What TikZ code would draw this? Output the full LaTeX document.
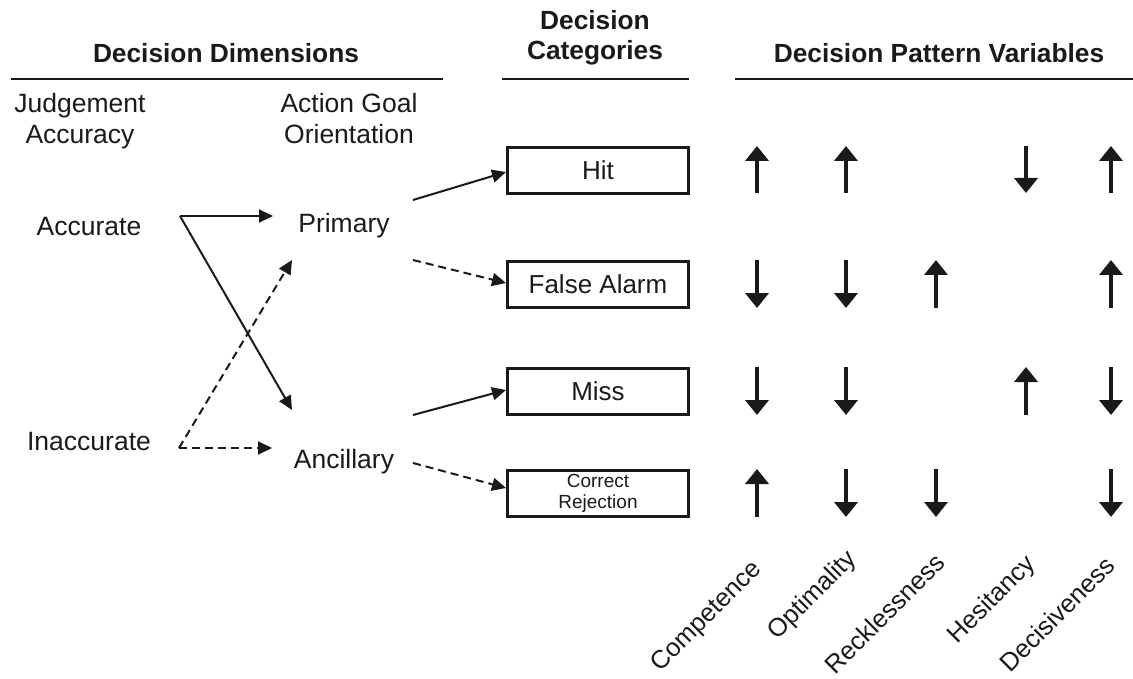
\documentclass[tikz,border=0pt]{standalone}
\usepackage{fontspec}
\setmainfont{Liberation Sans}
\usetikzlibrary{arrows.meta,calc}
\definecolor{ink}{HTML}{1A1A1A}
\begin{document}
\begin{tikzpicture}[x=1pt,y=-1pt,
 txt/.style={font=\fontsize{26.5}{30}\selectfont, text=ink, inner sep=0pt},
 hdr/.style={font=\fontsize{26.3}{31}\selectfont\bfseries, text=ink, inner sep=0pt},
 rulebar/.style={draw=ink, line width=2.5pt},
 cat/.style={draw=ink, line width=3pt, minimum width=181pt, minimum height=46pt, inner sep=0pt, font=\fontsize{26}{30}\selectfont, text=ink},
 conn/.style={draw=ink, line width=2pt, -{Triangle[length=14pt,width=13pt]}},
 dconn/.style={conn, dash pattern=on 8pt off 5pt},
 varrow/.style={draw=ink, line width=4pt, -{Triangle[length=15pt,width=23pt]}},
 vlabel/.style={txt, font=\fontsize{25.5}{29}\selectfont, rotate=45, anchor=base west}
]
\useasboundingbox[fill=white] (0,0) rectangle (1133,679);

% headers
\node[hdr, anchor=base] (hdim) at (226,63) {Decision Dimensions};
\node[hdr, anchor=base] (hcat1) at (595,30) {Decision};
\node[hdr, anchor=base] (hcat2) at (595,60) {Categories};
\node[hdr, anchor=base] (hpat) at (939,63) {Decision Pattern Variables};
\draw[rulebar] (11,79) -- (443,79);
\draw[rulebar] (502,79) -- (689,79);
\draw[rulebar] (735,79) -- (1133,79);

% dimension labels
\node[txt, anchor=base] (jud) at (80,113) {Judgement};
\node[txt, anchor=base] (accy) at (80,144) {Accuracy};
\node[txt, anchor=base] (act) at (349,113) {Action Goal};
\node[txt, anchor=base] (ori) at (349,144) {Orientation};
\node[txt, anchor=base] (acc) at (89,236) {Accurate};
\node[txt, anchor=base] (inacc) at (89,450) {Inaccurate};
\node[txt, anchor=base] (prim) at (344,233) {Primary};
\node[txt, anchor=base] (anc) at (344,468) {Ancillary};

% connector ends
\coordinate (accsrc) at (180,216);
\coordinate (inaccsrc) at (179,448);
\coordinate (primin1) at (273,216);
\coordinate (primin2) at (292,260);
\coordinate (ancin1) at (292,410);
\coordinate (ancin2) at (272,448);
\coordinate (primout1) at (413,200);
\coordinate (primout2) at (413,260);
\coordinate (ancout1) at (413,415);
\coordinate (ancout2) at (413,463);

% category boxes
\node[cat] (hit) at (598,170.5) {Hit};
\node[cat] (fa) at (598,284.5) {False Alarm};
\node[cat] (miss) at (598,391) {Miss};
\node[cat, align=center, font=\fontsize{19}{21}\selectfont] (cr) at (598,493) {Correct\\Rejection};

% connectors
\draw[conn] (accsrc) -- (primin1);
\draw[conn] (accsrc) -- (ancin1);
\draw[dconn] (inaccsrc) -- (ancin2);
\draw[dconn] (inaccsrc) -- (primin2);
\draw[conn] (primout1) -- ($(hit.west)+(0,1.5)$);
\draw[dconn] (primout2) -- ($(fa.west)+(0,-1.5)$);
\draw[conn] (ancout1) -- ($(miss.west)+(0,-1)$);
\draw[dconn] (ancout2) -- ($(cr.west)+(0,-5)$);

% pattern arrows
\foreach \x/\r/\d in {757/1/u,846/1/u,1026/1/d,1111/1/u,
                      757/2/d,846/2/d,936/2/u,1111/2/u,
                      757/3/d,846/3/d,1026/3/u,1111/3/d,
                      757/4/u,846/4/d,936/4/d,1111/4/d}{
  \ifnum\r=1 \def\yt{146}\def\yb{193}\fi
  \ifnum\r=2 \def\yt{260}\def\yb{308}\fi
  \ifnum\r=3 \def\yt{367}\def\yb{415}\fi
  \ifnum\r=4 \def\yt{469}\def\yb{517}\fi
  \if\d u
    \draw[varrow] (\x,\yb) -- (\x,\yt);
  \else
    \draw[varrow] (\x,\yt) -- (\x,\yb);
  \fi
}

% variable labels
\node[vlabel] (lcomp) at (660,673) {Competence};
\node[vlabel] (lopt) at (777,641) {Optimality};
\node[vlabel] (lreck) at (835,676) {Recklessness};
\node[vlabel] (lhes) at (957,645) {Hesitancy};
\node[vlabel] (ldec) at (1010,674) {Decisiveness};
\end{tikzpicture}
\end{document}
